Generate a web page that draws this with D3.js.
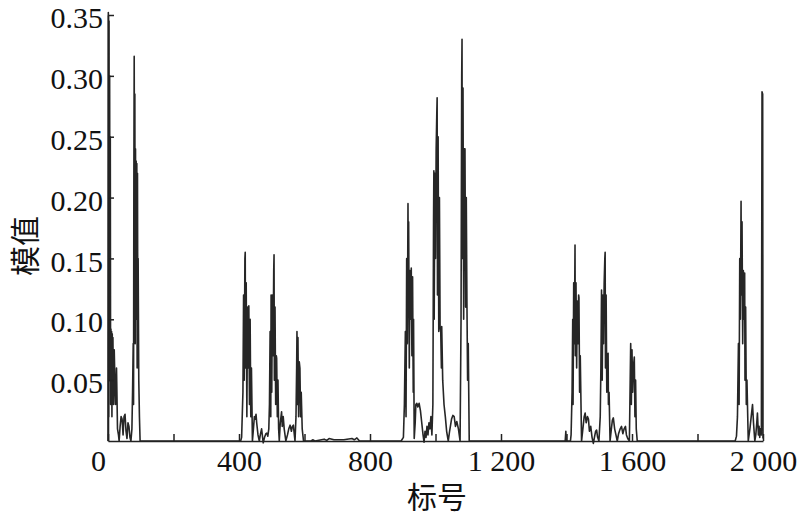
<!DOCTYPE html>
<html><head><meta charset="utf-8">
<script src="https://cdn.jsdelivr.net/npm/d3@7/dist/d3.min.js"></script>
<style>body{margin:0;background:#fff}</style></head>
<body>
<svg id="c" width="800" height="524"></svg>
<script>
// [index, magnitude] vertices, one array per burst
const seg1 = [[0,0],[1,0.352],[2,0.02],[3,0.345],[4,0.05],[5,0.30],[6,0.09],[7,0.25],[8,0.03],[9,0.092],[10,0.06],[11,0.09],[12,0.02],[13,0.088],[14,0.05],[15,0.085],[17,0.03],[19,0.075],[21,0.05],[23,0.03],[26,0.06],[29,0.01],[32,0.005],[34,0],[37,0.012],[40,0.02],[43,0.018],[46,0.005],[49,0.02],[52,0.022],[55,0.008],[58,0.002],[61,0.015],[64,0.012],[67,0.003],[70,0],[73,0.01],[75,0.04],[77,0.08],[78,0.03],[79,0.22],[80,0.316],[81,0.18],[82,0.285],[83,0.08],[84,0.24],[85,0.1],[86,0.23],[87,0.12],[88,0.228],[89,0.06],[90,0.22],[91,0.1],[92,0.15],[94,0.05],[96,0.02],[98,0],[100,0],[395,0]];
const seg2 = [[395,0],[405,0],[408,0.003],[412,0.04],[414,0.12],[416,0.05],[418,0.15],[419,0.155],[420,0.06],[422,0.13],[424,0.02],[426,0.11],[428,0.06],[430,0.111],[432,0.03],[434,0.10],[436,0.02],[438,0.06],[441,0],[444,0.01],[447,0.02],[450,0.018],[452,0.022],[454,0.015],[458,0.005],[462,0],[465,0.005],[469,0.01],[472,0.003],[474,-0.0015],[478,0.003],[482,0.006],[485,0.0065],[488,0.004],[491,0.01],[493,0.03],[495,0.09],[497,0.02],[498,0.12],[500,0.04],[502,0.12],[504,0.07],[506,0.14],[507,0.153],[508,0.05],[510,0.11],[512,0.03],[514,0.07],[515,0.068],[517,0.02],[519,0.05],[521,0.01],[523,0],[526,0.015],[530,0.024],[532,0.012],[535,0.02],[538,0.01],[543,0],[548,0.005],[552,0.01],[556,0.013],[560,0.008],[563,0.012],[566,0.013],[569,0.005],[571,0],[574,0.02],[576,0.06],[577,0.09],[578,0.03],[580,0.085],[582,0.02],[584,0.065],[586,0.06],[588,0.02],[590,0.04],[593,0.01],[597,0],[600,0]];
const seg3 = [[600,0],[620,0],[625,0.001],[632,0],[660,0.0015],[668,0.0005],[675,0.002],[690,0.001],[720,0.001],[745,0.002],[752,0.001],[760,0.0025],[768,0],[895,0]];
const seg4 = [[895,0],[902,0.003],[905,0.03],[908,0.09],[910,0.02],[912,0.15],[914,0.08],[916,0.195],[917,0.12],[918,0.18],[920,0.06],[922,0.14],[924,0.1],[926,0.142],[928,0.07],[930,0.135],[932,0.04],[933,0.1],[935,0.002],[938,0.015],[940,0.03],[943,0.031],[946,0.028],[950,0.031],[954,0.025],[958,0.015],[962,0.005],[965,-0.001],[968,0.008],[971,0.003],[974,0.012],[977,0.005],[980,0.015],[983,0.01],[986,0.02],[989,0.005],[992,0.03],[994,0.18],[995,0.222],[996,0.1],[998,0.22],[1000,0.15],[1002,0.24],[1004,0.27],[1005,0.282],[1006,0.12],[1008,0.25],[1010,0.09],[1012,0.2],[1014,0.094],[1016,0.09],[1018,0.06],[1019,0.094],[1022,0.05],[1026,0.03],[1030,0.02],[1034,0.008],[1039,0],[1043,0.008],[1049,0.018],[1053,0.021],[1057,0.02],[1061,0.012],[1065,0.016],[1070,0.01],[1075,0],[1078,0.1],[1079,0.2],[1080,0.3],[1081,0.33],[1082,0.15],[1084,0.29],[1086,0.1],[1088,0.24],[1090,0.24],[1092,0.11],[1094,0.2],[1096,0.113],[1098,0.05],[1100,0.08],[1103,0],[1110,0]];
const seg5 = [[1110,0],[1396,0],[1398,0.008],[1399,0],[1412,0],[1414,0.005],[1417,0.04],[1419,0.1],[1420,0.03],[1422,0.13],[1424,0.08],[1426,0.161],[1427,0.07],[1429,0.13],[1431,0.06],[1433,0.115],[1435,0.08],[1437,0.12],[1438,0.118],[1440,0.04],[1442,0.07],[1446,0],[1450,0.01],[1454,0.02],[1457,0.023],[1460,0.015],[1464,0.02],[1467,0.018],[1470,0.008],[1474,0.012],[1478,0.003],[1482,-0.002],[1486,0.004],[1489,0.008],[1492,0.009],[1495,0.003],[1499,0],[1503,0.02],[1505,0.06],[1507,0.124],[1509,0.05],[1511,0.12],[1513,0.08],[1515,0.13],[1517,0.15],[1518,0.155],[1519,0.06],[1521,0.12],[1523,0.04],[1525,0.07],[1527,0.072],[1528,0.03],[1530,0.04],[1533,0],[1537,0.01],[1540,0.017],[1543,0.019],[1547,0.01],[1551,0.005],[1555,0],[1559,0.006],[1564,0.01],[1568,0.012],[1572,0.006],[1576,0.01],[1580,0.012],[1583,0.005],[1587,0.002],[1592,0],[1594,0.04],[1596,0.08],[1598,0.03],[1600,0.075],[1602,0.04],[1604,0.06],[1607,0.069],[1609,0.02],[1611,0.05],[1613,0.01],[1616,0],[1630,0]];
const seg6 = [[1630,0],[1915,0],[1919,0.004],[1922,0.02],[1925,0.08],[1927,0.03],[1929,0.15],[1931,0.1],[1933,0.197],[1934,0.12],[1936,0.18],[1938,0.08],[1940,0.14],[1942,0.1],[1944,0.138],[1945,0.05],[1947,0.11],[1949,0.03],[1951,0.05],[1955,0],[1960,0.01],[1964,0.02],[1968,0.03],[1971,0.015],[1975,0],[1978,0.005],[1981,0.015],[1983,0.023],[1986,0.005],[1988,0.012],[1990,0.003],[1992,0.01],[1995,0.005],[1997,0.287],[1999,0.285],[2000,0.002]];

const xTicks = [0,200,400,600,800,1000,1200,1400,1600,1800,2000];
const xLabels = {0:"0",400:"400",800:"800",1200:"1 200",1600:"1 600",2000:"2 000"};
const yTicks = [0.05,0.10,0.15,0.20,0.25,0.30,0.35];
const xTitle = "标号";
const yTitle = "模值";

const W = 800, H = 524;
const m = {left:108, right:37, top:15, bottom:83};
const svg = d3.select("#c");
const x = d3.scaleLinear().domain([0,2000]).range([m.left, W-m.right]);
const y = d3.scaleLinear().domain([0,0.35]).range([H-m.bottom, m.top]);

const data = [].concat(seg1, seg2, seg3, seg4, seg5, seg6);
const line = d3.line().x(d=>x(d[0])).y(d=>y(d[1]));

svg.append("path").datum(data).attr("d", line)
  .attr("fill","none").attr("stroke","#262626").attr("stroke-width",1.6).attr("stroke-linejoin","round");

const fontNum = "'Liberation Serif','Times New Roman',serif";
const xa = svg.append("g").attr("transform",`translate(0,${H-m.bottom})`)
  .call(d3.axisBottom(x).tickValues(xTicks).tickSizeInner(-7).tickSizeOuter(0).tickPadding(9)
    .tickFormat(d => xLabels[d] !== undefined ? xLabels[d] : ""));
const ya = svg.append("g").attr("transform",`translate(${m.left},0)`)
  .call(d3.axisLeft(y).tickValues(yTicks).tickSizeInner(-6).tickSizeOuter(0).tickPadding(5)
    .tickFormat(d3.format(".2f")));
[xa, ya].forEach(g => {
  g.select(".domain").attr("stroke","#222").attr("stroke-width",1.6);
  g.selectAll(".tick line").attr("stroke","#222").attr("stroke-width",1.5);
  g.selectAll("text").attr("fill","#111").style("font-family",fontNum).style("font-size","30px");
});
ya.selectAll(".tick text").attr("dy","0.42em");
xa.selectAll(".tick").filter(d => d === 0).select("text").attr("dx", -10);

svg.append("text").attr("x", 437).attr("y", 508).attr("text-anchor","middle")
  .style("font-family","'Noto Sans CJK SC',sans-serif").style("font-size","30px").attr("fill","#111").text(xTitle);
svg.append("text").attr("transform","translate(36,246) rotate(-90)").attr("text-anchor","middle")
  .style("font-family","'Noto Sans CJK SC',sans-serif").style("font-size","30px").attr("fill","#111").text(yTitle);
</script>
</body></html>
